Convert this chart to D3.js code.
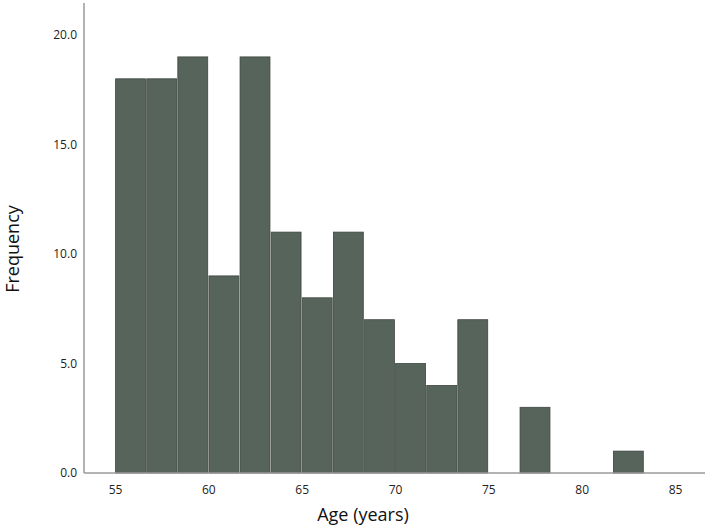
<!DOCTYPE html>
<html><head><meta charset="utf-8">
<script src="https://cdn.jsdelivr.net/npm/d3@7"></script>
<style>body{margin:0;background:#fff}</style>
</head><body>
<svg id="chart" width="709" height="531"></svg>
<script>
const binStarts = [55, 56.667, 58.333, 60, 61.667, 63.333, 65, 66.667, 68.333, 70, 71.667, 73.333, 75, 76.667, 78.333, 80, 81.667];
const binWidth = 1.6667;
const counts = [18, 18, 19, 9, 19, 11, 8, 11, 7, 5, 4, 7, 0, 3, 0, 0, 1];
const xTicks = [55, 60, 65, 70, 75, 80, 85];
const yTicks = [0, 5, 10, 15, 20];

const svg = d3.select("#chart");
const x = d3.scaleLinear().domain([55, 85]).range([115, 675]);
const y = d3.scaleLinear().domain([0, 20]).range([473, 35]);
const font = "'Open Sans', sans-serif";

// bars
svg.append("g").selectAll("rect").data(counts.map((c, i) => ({x0: binStarts[i], c})))
  .join("rect")
  .filter(d => d.c > 0)
  .attr("x", d => x(d.x0) + 0.6)
  .attr("y", d => y(d.c))
  .attr("width", d => x(d.x0 + binWidth) - x(d.x0) - 1.2)
  .attr("height", d => y(0) - y(d.c))
  .attr("fill", "#56645c")
  .attr("stroke", "#3f4642")
  .attr("stroke-width", 0.8);

// axes lines
svg.append("line").attr("x1", 84).attr("x2", 84).attr("y1", 3).attr("y2", 473)
  .attr("stroke", "#9a9a9a").attr("stroke-width", 1.5);
svg.append("line").attr("x1", 84).attr("x2", 705).attr("y1", 473).attr("y2", 473)
  .attr("stroke", "#9a9a9a").attr("stroke-width", 1.5);

// x axis ticks labels
const xa = svg.append("g").attr("transform", "translate(0,473)")
  .call(d3.axisBottom(x).tickValues(xTicks).tickSize(0).tickPadding(12).tickFormat(d3.format("d")));
xa.select(".domain").remove();
xa.selectAll("text").attr("font-family", font).attr("font-size", 12).attr("fill", "#222");

// y axis tick labels
const ya = svg.append("g").attr("transform", "translate(84,0)")
  .call(d3.axisLeft(y).tickValues(yTicks).tickSize(0).tickPadding(7).tickFormat(d3.format(".1f")));
ya.select(".domain").remove();
ya.selectAll("text").attr("font-family", font).attr("font-size", 12).attr("fill", "#222");

// titles
svg.append("text").attr("x", 363).attr("y", 521).attr("text-anchor", "middle")
  .attr("font-family", font).attr("font-size", 18).attr("fill", "#111").text("Age (years)");
svg.append("text").attr("transform", "translate(19,249) rotate(-90)").attr("text-anchor", "middle")
  .attr("font-family", font).attr("font-size", 18).attr("fill", "#111").text("Frequency");
</script>
</body></html>
